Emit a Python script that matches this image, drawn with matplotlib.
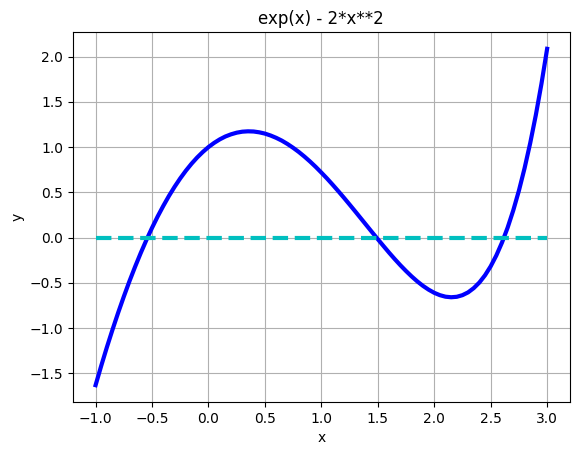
import matplotlib
matplotlib.use("Agg")
import matplotlib.pyplot as plt

# values (x step 0.05 from -1 to 3)
x_values = [-1.00, -0.95, -0.90, -0.85, -0.80, -0.75, -0.70, -0.65, -0.60, -0.55,
            -0.50, -0.45, -0.40, -0.35, -0.30, -0.25, -0.20, -0.15, -0.10, -0.05,
            0.00, 0.05, 0.10, 0.15, 0.20, 0.25, 0.30, 0.35, 0.40, 0.45,
            0.50, 0.55, 0.60, 0.65, 0.70, 0.75, 0.80, 0.85, 0.90, 0.95,
            1.00, 1.05, 1.10, 1.15, 1.20, 1.25, 1.30, 1.35, 1.40, 1.45,
            1.50, 1.55, 1.60, 1.65, 1.70, 1.75, 1.80, 1.85, 1.90, 1.95,
            2.00, 2.05, 2.10, 2.15, 2.20, 2.25, 2.30, 2.35, 2.40, 2.45,
            2.50, 2.55, 2.60, 2.65, 2.70, 2.75, 2.80, 2.85, 2.90, 2.95, 3.00]
y_values = [-1.632, -1.418, -1.213, -1.018, -0.831, -0.653, -0.483, -0.323, -0.171, -0.028,
            0.107, 0.233, 0.350, 0.460, 0.561, 0.654, 0.739, 0.816, 0.885, 0.946,
            1.000, 1.046, 1.085, 1.117, 1.141, 1.159, 1.170, 1.174, 1.172, 1.163,
            1.149, 1.128, 1.102, 1.071, 1.034, 0.992, 0.946, 0.895, 0.840, 0.781,
            0.718, 0.653, 0.584, 0.513, 0.440, 0.365, 0.289, 0.212, 0.135, 0.058,
            -0.018, -0.093, -0.167, -0.238, -0.306, -0.370, -0.430, -0.485, -0.534, -0.576,
            -0.611, -0.637, -0.654, -0.660, -0.655, -0.637, -0.606, -0.559, -0.497, -0.417,
            -0.318, -0.198, -0.056, 0.109, 0.300, 0.518, 0.765, 1.043, 1.354, 1.701, 2.086]
zero_x = [-1.0, 3.0]
zero_y = [0.0, 0.0]

fig = plt.figure(figsize=(5.78, 4.55), dpi=100)
ax = fig.add_axes([73/578, 53/455, (569.7-73)/578, (402-32)/455])
ax.plot(x_values, y_values, color='b', linewidth=3)
ax.plot(zero_x, zero_y, 'c--', linewidth=3)
ax.grid(True)
ax.set_title('exp(x) - 2*x**2')
ax.set_xlabel('x')
ax.set_ylabel('y')
fig.savefig('out.png', dpi=100)
